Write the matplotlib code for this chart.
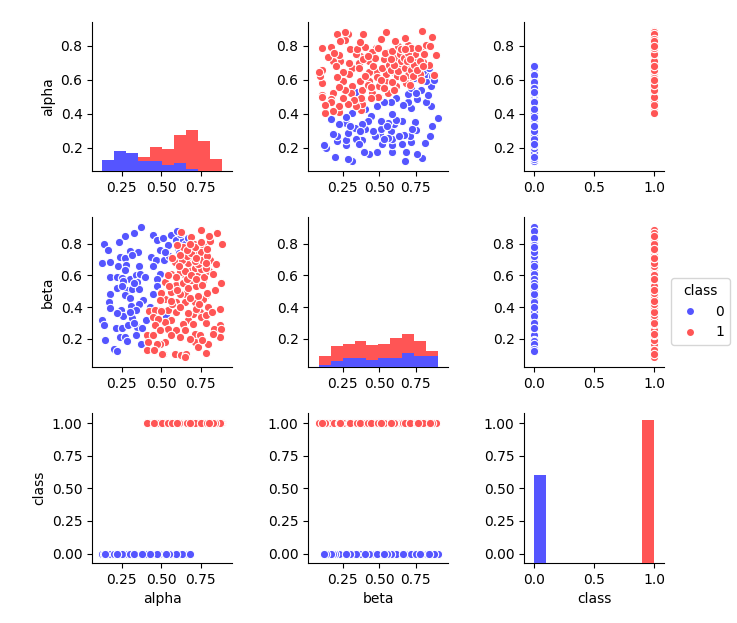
import matplotlib
matplotlib.use("Agg")
import matplotlib.pyplot as plt
from matplotlib.lines import Line2D

# class 0 points (alpha, beta)
alpha0 = [0.373, 0.329, 0.270, 0.230, 0.139, 0.165, 0.124, 0.177, 0.236, 0.268,
          0.304, 0.354, 0.312, 0.224, 0.274, 0.359, 0.175, 0.217, 0.251, 0.270,
          0.302, 0.338, 0.363, 0.399, 0.259, 0.344, 0.222, 0.281, 0.314, 0.359,
          0.173, 0.270, 0.302, 0.386, 0.357, 0.310, 0.167, 0.173, 0.245, 0.338,
          0.255, 0.316, 0.124, 0.135, 0.215, 0.249, 0.287, 0.344, 0.238, 0.270,
          0.338, 0.146, 0.281, 0.369, 0.200, 0.217, 0.403, 0.432, 0.449, 0.470,
          0.489, 0.468, 0.517, 0.492, 0.470, 0.449, 0.511, 0.563, 0.595, 0.637,
          0.604, 0.62, 0.65, 0.60, 0.67, 0.54, 0.61, 0.63, 0.59, 0.55,
          0.52, 0.68, 0.45, 0.25, 0.33, 0.47, 0.22, 0.30, 0.43, 0.53,
          0.33, 0.38]
beta0 = [0.904, 0.866, 0.851, 0.813, 0.796, 0.760, 0.676, 0.682, 0.718, 0.711,
         0.756, 0.749, 0.728, 0.659, 0.669, 0.659, 0.591, 0.591, 0.585, 0.633,
         0.580, 0.601, 0.612, 0.587, 0.563, 0.559, 0.521, 0.506, 0.513, 0.515,
         0.485, 0.473, 0.460, 0.443, 0.422, 0.405, 0.432, 0.396, 0.379, 0.379,
         0.341, 0.331, 0.316, 0.284, 0.270, 0.270, 0.284, 0.274, 0.210, 0.210,
         0.221, 0.193, 0.183, 0.166, 0.136, 0.119, 0.316, 0.718, 0.855, 0.823,
         0.760, 0.697, 0.697, 0.612, 0.580, 0.485, 0.834, 0.855, 0.823, 0.823,
         0.771, 0.86, 0.80, 0.88, 0.84, 0.79, 0.74, 0.71, 0.68, 0.72,
         0.75, 0.78, 0.66, 0.53, 0.55, 0.53, 0.36, 0.37, 0.40, 0.34,
         0.30, 0.27]

# class 1 points
alpha1 = [0.627, 0.749, 0.854, 0.886, 0.690, 0.705, 0.764, 0.806, 0.679, 0.722,
          0.753, 0.637, 0.606, 0.648, 0.584, 0.743, 0.806, 0.690, 0.728, 0.753,
          0.848, 0.880, 0.563, 0.648, 0.690, 0.521, 0.595, 0.637, 0.707, 0.764,
          0.648, 0.616, 0.563, 0.500, 0.785, 0.764, 0.711, 0.521, 0.595, 0.870,
          0.795, 0.648, 0.489, 0.542, 0.595, 0.743, 0.700, 0.753, 0.669, 0.563,
          0.637, 0.521, 0.869, 0.833, 0.880, 0.542, 0.595, 0.648, 0.711, 0.747,
          0.616, 0.521, 0.489, 0.711, 0.732, 0.795, 0.869, 0.584, 0.622, 0.658,
          0.785, 0.511, 0.648,
          0.422, 0.498, 0.492, 0.460, 0.496, 0.449, 0.481, 0.460, 0.411, 0.449,
          0.492, 0.418, 0.470, 0.407, 0.453, 0.502,
          0.68, 0.76, 0.56, 0.83, 0.70, 0.78, 0.67, 0.72, 0.78, 0.62,
          0.82, 0.68, 0.73, 0.57, 0.74, 0.56, 0.79, 0.67, 0.72, 0.60,
          0.76, 0.69, 0.55, 0.84, 0.66, 0.70, 0.73, 0.77, 0.80, 0.62,
          0.68, 0.71, 0.75, 0.59, 0.65, 0.69, 0.78, 0.83, 0.54, 0.72,
          0.67, 0.70, 0.73, 0.76, 0.79, 0.63, 0.66, 0.71, 0.62, 0.61,
          0.69, 0.78, 0.57, 0.72, 0.66, 0.71, 0.75, 0.60, 0.68, 0.79,
          0.80]
beta1 = [0.876, 0.887, 0.866, 0.796, 0.845, 0.802, 0.792, 0.819, 0.760, 0.749,
         0.749, 0.781, 0.707, 0.728, 0.686, 0.697, 0.697, 0.686, 0.623, 0.623,
         0.675, 0.549, 0.612, 0.601, 0.591, 0.559, 0.538, 0.549, 0.559, 0.570,
         0.481, 0.485, 0.496, 0.496, 0.475, 0.453, 0.432, 0.453, 0.432, 0.390,
         0.401, 0.432, 0.380, 0.380, 0.369, 0.369, 0.358, 0.337, 0.316, 0.316,
         0.295, 0.305, 0.284, 0.263, 0.263, 0.263, 0.253, 0.253, 0.231, 0.221,
         0.210, 0.179, 0.168, 0.179, 0.147, 0.168, 0.210, 0.105, 0.094, 0.105,
         0.109, 0.105, 0.084,
         0.375, 0.489, 0.443, 0.380, 0.375, 0.337, 0.327, 0.284, 0.225, 0.221,
         0.253, 0.179, 0.168, 0.130, 0.126, 0.105,
         0.20, 0.19, 0.22, 0.23, 0.29, 0.30, 0.36, 0.39, 0.35, 0.40,
         0.37, 0.46, 0.47, 0.42, 0.42, 0.44, 0.49, 0.52, 0.53, 0.51,
         0.54, 0.57, 0.53, 0.51, 0.58, 0.61, 0.60, 0.59, 0.63, 0.62,
         0.64, 0.65, 0.64, 0.59, 0.63, 0.60, 0.65, 0.61, 0.60, 0.58,
         0.68, 0.71, 0.67, 0.70, 0.72, 0.70, 0.72, 0.69, 0.73, 0.66,
         0.74, 0.68, 0.71, 0.71, 0.76, 0.78, 0.81, 0.79, 0.80, 0.77,
         0.85]

class0 = [0] * len(alpha0)
class1 = [1] * len(alpha1)

names = ["alpha", "beta", "class"]
data0 = {"alpha": alpha0, "beta": beta0, "class": class0}
data1 = {"alpha": alpha1, "beta": beta1, "class": class1}
hue_labels = ["0", "1"]
blue = "#5555ff"
red = "#ff5555"

# axis ranges as in the picture
lims_x = {"alpha": (0.063, 0.949), "beta": (0.012, 0.975), "class": (-0.085, 1.085)}
lims_y = {"alpha": (0.063, 0.942), "beta": (0.020, 0.967), "class": (-0.071, 1.075)}
ticks = {"alpha": [0.2, 0.4, 0.6, 0.8], "beta": [0.2, 0.4, 0.6, 0.8],
         "class": [0.0, 0.25, 0.5, 0.75, 1.0]}
xticks = {"alpha": [0.25, 0.5, 0.75], "beta": [0.25, 0.5, 0.75], "class": [0.0, 0.5, 1.0]}
xfmt = {"alpha": "{:.2f}", "beta": "{:.2f}", "class": "{:.1f}"}
yfmt = {"alpha": "{:.1f}", "beta": "{:.1f}", "class": "{:.2f}"}

W, H = 737, 623
fig = plt.figure(figsize=(W / 100, H / 100), dpi=100)

col_left = [92.3, 308.3, 524.3]
row_top = [21.7, 217.5, 413.3]
aw, ah = 140, 149.5

diag_axes = []
for i, yv in enumerate(names):
    for j, xv in enumerate(names):
        ax = fig.add_axes([col_left[j] / W, 1 - (row_top[i] + ah) / H, aw / W, ah / H])
        if i == j:
            tw = ax.twinx()
            tw.hist([data0[xv], data1[xv]], bins=10, stacked=True,
                    color=[blue, red], linewidth=0)
            tw.set_axis_off()
            diag_axes.append(tw)
        else:
            ax.scatter(data0[xv], data0[yv], s=36, color=blue, edgecolor="white", linewidth=0.8)
            ax.scatter(data1[xv], data1[yv], s=36, color=red, edgecolor="white", linewidth=0.8)
        ax.set_xlim(lims_x[xv])
        ax.set_ylim(lims_y[yv])
        ax.set_xticks(xticks[xv])
        ax.set_xticklabels([xfmt[xv].format(t) for t in xticks[xv]])
        ax.set_yticks(ticks[yv])
        ax.set_yticklabels([yfmt[yv].format(t) for t in ticks[yv]])
        ax.spines["top"].set_visible(False)
        ax.spines["right"].set_visible(False)
        if j == 0:
            ax.set_ylabel(yv)
        if i == 2:
            ax.set_xlabel(xv)

top = max(tw.get_ylim()[1] for tw in diag_axes)
for tw in diag_axes:
    tw.set_xlim(tw.get_xlim())
    tw.set_ylim(0, top)

handles = [Line2D([], [], marker="o", linestyle="", markersize=5, color=c, markeredgewidth=0)
           for c in (blue, red)]
fig.legend(handles, hue_labels, title="class", loc="center left",
           bbox_to_anchor=(664 / W, 0.5), frameon=True)

fig.savefig("out.png", dpi=100)
